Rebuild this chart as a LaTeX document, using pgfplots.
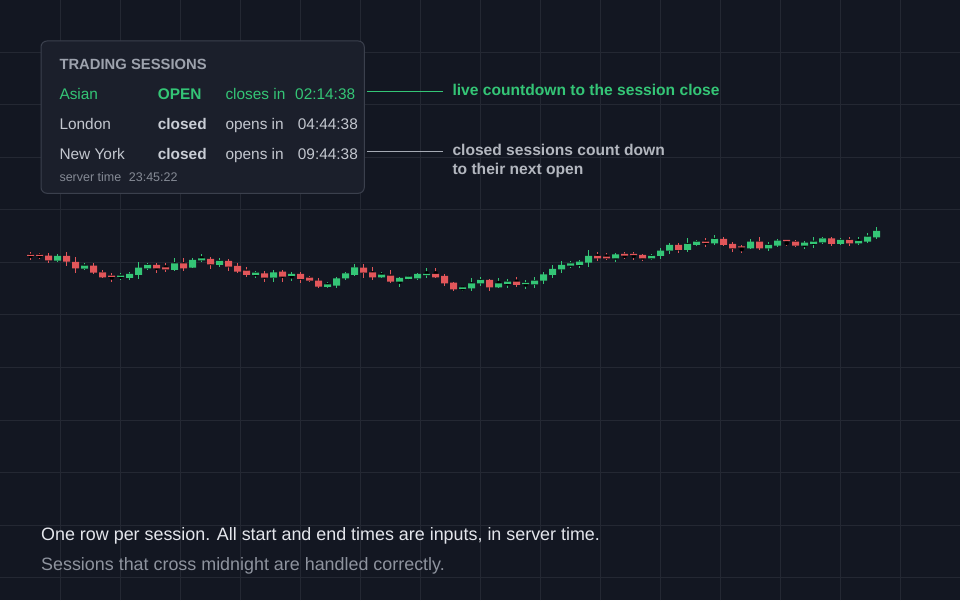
\documentclass[border=0pt]{standalone}
\usepackage{pgfplots}
\pgfplotsset{compat=1.18}
\usepackage{pgfplotstable}
\usepackage{fontspec}
\setmainfont{Liberation Sans}
\definecolor{bg}{HTML}{131722}
\definecolor{gridc}{HTML}{242833}
\definecolor{cgreen}{HTML}{34C576}
\definecolor{cred}{HTML}{E2565A}
\definecolor{boxfill}{HTML}{1B1F2B}
\definecolor{boxline}{HTML}{3B404D}
\definecolor{titlec}{HTML}{9DA2AD}
\definecolor{rowc}{HTML}{C3C7CF}
\definecolor{boldc}{HTML}{C9CDD5}
\definecolor{smallc}{HTML}{858A95}
\definecolor{annc}{HTML}{B3B7BF}
\definecolor{annline}{HTML}{A5AAB4}
\definecolor{line1c}{HTML}{E4E6EC}
\definecolor{line2c}{HTML}{8E939E}
\newcommand\fs[1]{\fontsize{#1}{#1}\selectfont}

% rising candles: index, open, high, low, close
\pgfplotstableread{
i o h l c
4 339.3 345.7 337.7 344.0
7 331.3 336.7 330.0 334.3
11 323.2 326.7 320.0 323.5
12 322.0 328.3 320.0 326.0
13 325.0 337.7 320.7 332.3
14 331.7 337.3 330.0 335.0
17 330.0 341.7 329.3 336.7
19 332.3 341.7 331.7 340.0
20 339.7 345.7 337.7 341.7
22 335.0 341.7 333.3 339.0
26 325.0 329.3 322.3 327.3
28 322.3 330.0 318.3 327.7
30 324.0 328.3 319.0 326.0
34 313.0 318.3 311.7 315.7
35 314.3 323.3 311.7 321.7
36 321.7 328.3 320.0 326.7
37 325.0 336.0 324.3 332.7
40 322.7 328.3 321.7 325.3
42 318.3 323.3 313.3 322.0
43 321.0 325.0 320.0 323.3
44 321.7 327.3 320.0 326.0
45 324.8 331.7 321.7 325.2
49 311.0 314.3 309.0 312.7
50 311.7 322.3 309.0 316.7
51 316.7 323.3 314.3 320.0
53 312.7 321.7 312.3 316.7
54 316.0 321.0 312.3 318.3
56 315.8 320.0 311.0 316.2
57 315.7 323.3 311.7 319.3
58 319.3 328.3 315.7 325.7
59 325.0 335.0 321.7 331.0
60 330.7 339.0 326.7 335.0
61 334.3 339.0 331.7 336.7
62 335.0 340.0 332.3 338.3
63 337.3 350.0 332.7 344.0
66 341.7 346.7 338.3 345.7
70 341.7 345.7 340.0 344.0
71 344.0 351.7 340.7 349.3
72 349.3 356.7 345.7 355.0
74 350.0 361.7 348.3 356.0
75 355.0 360.0 354.0 358.3
77 356.7 365.0 355.0 361.0
81 351.7 361.0 350.7 358.3
83 351.7 358.3 349.3 355.0
84 354.3 361.0 353.3 359.3
87 354.3 359.3 350.7 357.3
88 356.0 362.7 351.7 358.3
89 357.7 363.3 356.0 361.7
91 356.0 361.7 355.0 360.0
93 356.7 362.7 355.0 359.0
94 358.3 367.3 357.3 363.3
95 362.7 372.7 361.3 369.0
}\upc

% falling candles: index, open, high, low, close
\pgfplotstableread{
i o h l c
1 344.3 348.3 340.0 344.0
2 344.3 347.3 341.0 344.0
3 344.3 346.7 336.7 339.7
5 344.0 348.3 334.3 338.3
6 338.0 343.3 326.7 331.7
8 334.3 336.7 325.7 327.3
9 327.7 330.0 321.7 322.7
10 323.5 326.7 318.3 323.2
15 335.0 336.7 327.3 331.7
16 332.7 336.7 328.3 330.7
18 336.7 341.7 329.3 331.7
21 341.0 343.3 330.7 335.7
23 339.0 340.7 329.0 333.3
24 334.0 337.3 326.7 328.3
25 329.3 333.3 323.3 325.0
27 326.7 329.0 317.7 322.3
29 328.3 330.0 318.3 323.3
31 326.0 328.3 316.7 321.0
32 322.3 324.3 317.7 319.3
33 319.3 322.3 311.7 313.3
38 332.3 336.0 322.3 327.3
39 327.7 333.3 320.0 322.7
41 324.3 330.0 316.7 318.3
46 326.0 331.7 321.7 322.7
47 324.0 325.7 314.3 316.7
48 317.3 318.3 309.0 310.7
52 320.0 321.0 309.0 312.7
55 318.3 323.3 313.3 315.0
64 344.0 348.3 339.3 341.7
65 343.3 346.7 340.0 341.7
67 346.0 347.7 340.7 344.3
68 345.2 348.3 340.0 344.8
69 345.0 345.7 339.3 341.7
73 355.0 356.7 346.7 350.0
76 357.5 361.7 353.3 357.2
78 361.0 363.3 354.0 355.0
79 356.0 358.3 348.3 351.7
80 352.8 355.0 346.7 352.5
82 358.3 362.7 350.0 351.7
85 359.2 360.0 354.0 358.8
86 358.3 360.0 353.3 354.3
90 361.7 362.7 354.0 356.0
92 360.0 363.3 354.3 356.7
}\dnc

\pgfplotsset{
  cstick/.style={only marks, mark=none,
    error bars/.cd, y dir=both, y explicit, error mark=none},
  cbody/.style={ybar, bar width=7, bar shift=0pt, stack plots=y, draw=none, line width=0pt},
  frame/.style={at={(0,0)}, anchor=south west,
    scale only axis, width=960pt, height=600pt,
    xmin=0, xmax=960, ymin=0, ymax=600, clip=false},
}

\begin{document}
\begin{tikzpicture}
\fill[bg] (0,0) rectangle (960pt,600pt);
\begin{axis}[frame,
  axis line style={draw=none},
  major tick length=0pt,
  xtick={60,120,...,900},
  ytick={22.5,75,127.5,180,232.5,285,337.5,390,442.5,495,547.5},
  xticklabels={}, yticklabels={},
  grid=major,
  major grid style={draw=gridc, line width=1pt},
]
% wicks
\addplot[cstick, error bar style={draw=cgreen, line width=1.1pt}]
  table[x expr=21.7+9*\thisrow{i}, y expr=(\thisrow{h}+\thisrow{l})/2,
        y error expr=(\thisrow{h}-\thisrow{l})/2] {\upc};
\addplot[cstick, error bar style={draw=cred, line width=1.1pt}]
  table[x expr=21.7+9*\thisrow{i}, y expr=(\thisrow{h}+\thisrow{l})/2,
        y error expr=(\thisrow{h}-\thisrow{l})/2] {\dnc};
\end{axis}
\begin{axis}[frame, hide axis]
% rising bodies (invisible base up to the lower body edge, then the body)
\addplot[cbody, fill=none]
  table[x expr=21.7+9*\thisrow{i}, y expr={min(\thisrow{o},\thisrow{c})}] {\upc};
\addplot[cbody, fill=cgreen]
  table[x expr=21.7+9*\thisrow{i}, y expr={max(abs(\thisrow{c}-\thisrow{o}),1.2)}] {\upc};
\end{axis}
\begin{axis}[frame, hide axis]
% falling bodies
\addplot[cbody, fill=none]
  table[x expr=21.7+9*\thisrow{i}, y expr={min(\thisrow{o},\thisrow{c})}] {\dnc};
\addplot[cbody, fill=cred]
  table[x expr=21.7+9*\thisrow{i}, y expr={max(abs(\thisrow{c}-\thisrow{o}),1.2)}] {\dnc};
\end{axis}

% sessions box (1 unit = 1pt, origin at the lower left corner)
\draw[fill=boxfill, draw=boxline, line width=1pt, rounded corners=6pt]
  (41pt,559pt) rectangle (364.3pt,406.7pt);
\begin{scope}[every node/.style={anchor=base west, inner sep=0pt}]
\node[text=titlec, font=\fs{14.8}\bfseries] at (59.3pt,530.5pt) {TRADING SESSIONS};

\node[text=cgreen, font=\fs{15.4}] at (59.3pt,500.7pt) {Asian};
\node[text=cgreen, font=\fs{15.4}\bfseries] at (157.7pt,500.7pt) {OPEN};
\node[text=cgreen, font=\fs{15.4}] at (225.3pt,500.7pt) {closes in};
\node[text=cgreen, font=\fs{15.4}] at (295pt,500.7pt) {02:14:38};

\node[text=rowc, font=\fs{15.4}] at (59.3pt,470.7pt) {London};
\node[text=boldc, font=\fs{15.4}\bfseries] at (157.7pt,470.7pt) {closed};
\node[text=rowc, font=\fs{15.4}] at (225.3pt,470.7pt) {opens in};
\node[text=rowc, font=\fs{15.4}] at (297.7pt,470.7pt) {04:44:38};

\node[text=rowc, font=\fs{15.4}] at (59.3pt,440.7pt) {New York};
\node[text=boldc, font=\fs{15.4}\bfseries] at (157.7pt,440.7pt) {closed};
\node[text=rowc, font=\fs{15.4}] at (225.3pt,440.7pt) {opens in};
\node[text=rowc, font=\fs{15.4}] at (297.7pt,440.7pt) {09:44:38};

\node[text=smallc, font=\fs{12.5}] at (59.3pt,418.3pt) {server time};
\node[text=smallc, font=\fs{12.5}] at (128.7pt,418.3pt) {23:45:22};

% annotations (connector lines as thin filled bars)
\fill[cgreen] (367.3pt,507.6pt) rectangle (442.7pt,509.1pt);
\fill[annline] (367.3pt,447.6pt) rectangle (442.7pt,449.1pt);
\node[text=cgreen, font=\fs{15.6}\bfseries] at (452.3pt,504pt) {live countdown to the session close};
\node[text=annc, font=\fs{15.6}\bfseries] at (452.3pt,444pt) {closed sessions count down};
\node[text=annc, font=\fs{15.6}\bfseries] at (452.3pt,425.5pt) {to their next open};

% footer
\node[text=line1c, font=\fs{17.9}] at (41pt,59.3pt) {One row per session. All start and end times are inputs, in server time.};
\node[text=line2c, font=\fs{17.9}] at (41pt,29.3pt) {Sessions that cross midnight are handled correctly.};
\end{scope}
\pgfresetboundingbox
\useasboundingbox (0,0) rectangle (960pt,600pt);
\end{tikzpicture}
\end{document}
